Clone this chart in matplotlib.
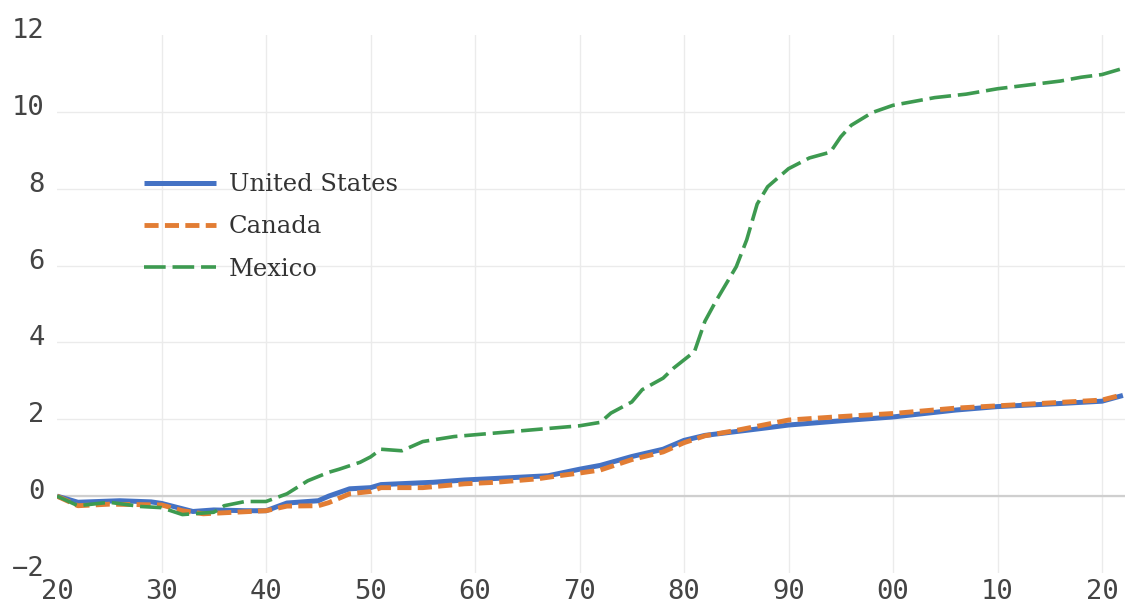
import matplotlib
matplotlib.use("Agg")
import matplotlib.pyplot as plt
import matplotlib.transforms as mtransforms

# ---- data ----
us_years = [1920, 1922, 1926, 1929, 1930, 1933, 1935, 1938, 1940, 1942, 1945, 1946,
            1948, 1950, 1951, 1956, 1959, 1962, 1967, 1970, 1972, 1975, 1978, 1980,
            1982, 1985, 1988, 1990, 1995, 2000, 2006, 2010, 2016, 2020, 2022]
us_values = [0.0, -0.16, -0.12, -0.15, -0.19, -0.40, -0.36, -0.38, -0.38, -0.18, -0.12, 0.0,
             0.19, 0.22, 0.30, 0.36, 0.42, 0.46, 0.53, 0.70, 0.80, 1.03, 1.22, 1.45,
             1.58, 1.68, 1.78, 1.85, 1.96, 2.06, 2.24, 2.33, 2.41, 2.47, 2.62]

ca_years = [1920, 1922, 1925, 1930, 1932, 1934, 1937, 1940, 1942, 1945, 1946, 1948,
            1950, 1951, 1955, 1959, 1962, 1966, 1968, 1970, 1972, 1975, 1978, 1980,
            1982, 1985, 1990, 1995, 2000, 2006, 2010, 2020, 2022]
ca_values = [0.0, -0.25, -0.21, -0.23, -0.38, -0.46, -0.42, -0.38, -0.26, -0.25, -0.17, 0.06,
             0.12, 0.22, 0.22, 0.32, 0.36, 0.45, 0.53, 0.60, 0.68, 0.95, 1.15, 1.39,
             1.57, 1.71, 1.98, 2.07, 2.15, 2.29, 2.35, 2.50, 2.64]

mx_years = [1920, 1922, 1925, 1928, 1930, 1932, 1935, 1936, 1938, 1940, 1942, 1944,
            1946, 1947, 1949, 1950, 1951, 1953, 1955, 1958, 1961, 1964, 1967, 1970,
            1972, 1973, 1975, 1976, 1978, 1979, 1981, 1982, 1983, 1985, 1986, 1987,
            1988, 1990, 1992, 1994, 1995, 1996, 1998, 2000, 2004, 2007, 2010, 2016,
            2018, 2020, 2022]
mx_values = [0.0, -0.25, -0.16, -0.27, -0.30, -0.48, -0.42, -0.25, -0.14, -0.14, 0.06, 0.40,
             0.62, 0.70, 0.88, 1.02, 1.22, 1.18, 1.42, 1.55, 1.62, 1.69, 1.76, 1.83,
             1.92, 2.16, 2.45, 2.77, 3.07, 3.33, 3.76, 4.55, 5.05, 5.97, 6.67, 7.60,
             8.05, 8.52, 8.80, 8.95, 9.35, 9.65, 9.98, 10.17, 10.37, 10.46, 10.60, 10.80,
             10.90, 10.97, 11.13]

series_names = ["United States", "Canada", "Mexico"]
x_ticks = [1920, 1930, 1940, 1950, 1960, 1970, 1980, 1990, 2000, 2010, 2020]
x_tick_labels = ["20", "30", "40", "50", "60", "70", "80", "90", "00", "10", "20"]
y_ticks = [-2, 0, 2, 4, 6, 8, 10, 12]
y_tick_labels = ["\u22122", "0", "2", "4", "6", "8", "10", "12"]

# ---- figure ----
fig = plt.figure(figsize=(11.25, 6.08), dpi=100)
ax = fig.add_axes([0.0507, 0.0576, 0.9493, 0.8849])

ax.plot(us_years, us_values, color="#4472C4", lw=3.6, solid_capstyle="butt",
        label=series_names[0], zorder=3)
l_ca, = ax.plot(ca_years, ca_values, color="#E27D34", lw=3.5, dash_capstyle="butt",
                label=series_names[1], zorder=4)
l_ca.set_dashes([2.9, 1.3])
l_mx, = ax.plot(mx_years, mx_values, color="#3D9A50", lw=2.6, dash_capstyle="butt",
                label=series_names[2], zorder=5)
l_mx.set_dashes([6.0, 1.9])

ax.axhline(0, color="#CFCFCF", lw=1.6, zorder=2)

ax.set_xlim(1920, 2022.2)
ax.set_ylim(-2, 12)
ax.set_xticks(x_ticks)
ax.set_xticklabels(x_tick_labels)
ax.set_yticks(y_ticks)
ax.set_yticklabels(y_tick_labels)

ax.grid(True, color="#EBEBEB", lw=1.0, zorder=0)
ax.set_axisbelow(True)
for s in ax.spines.values():
    s.set_visible(False)
ax.tick_params(length=0)
ax.tick_params(axis="x", pad=4)
ax.tick_params(axis="y", pad=9)

for lab in ax.get_xticklabels() + ax.get_yticklabels():
    lab.set_fontfamily("DejaVu Sans Mono")
    lab.set_fontsize(19.5)
    lab.set_color("#444444")

# shift y labels slightly upward like the reference
off = mtransforms.ScaledTranslation(0, 7 / 100, fig.dpi_scale_trans)
for lab in ax.get_yticklabels():
    lab.set_transform(lab.get_transform() + off)

fig.canvas.draw()
xg = ax.xaxis.get_gridlines()
xg[0].set_visible(False)
yg = ax.yaxis.get_gridlines()
yg[0].set_visible(False)
yg[-1].set_visible(False)

leg = ax.legend(loc="upper left", bbox_to_anchor=(127 / 1125, 1 - 156 / 608),
                bbox_transform=fig.transFigure, frameon=False,
                prop=dict(family="DejaVu Serif", size=17.5),
                handlelength=2.95, handletextpad=0.55, labelspacing=0.8,
                borderpad=0.2)
for t in leg.get_texts():
    t.set_color("#333333")

fig.savefig("out.png", dpi=100)
